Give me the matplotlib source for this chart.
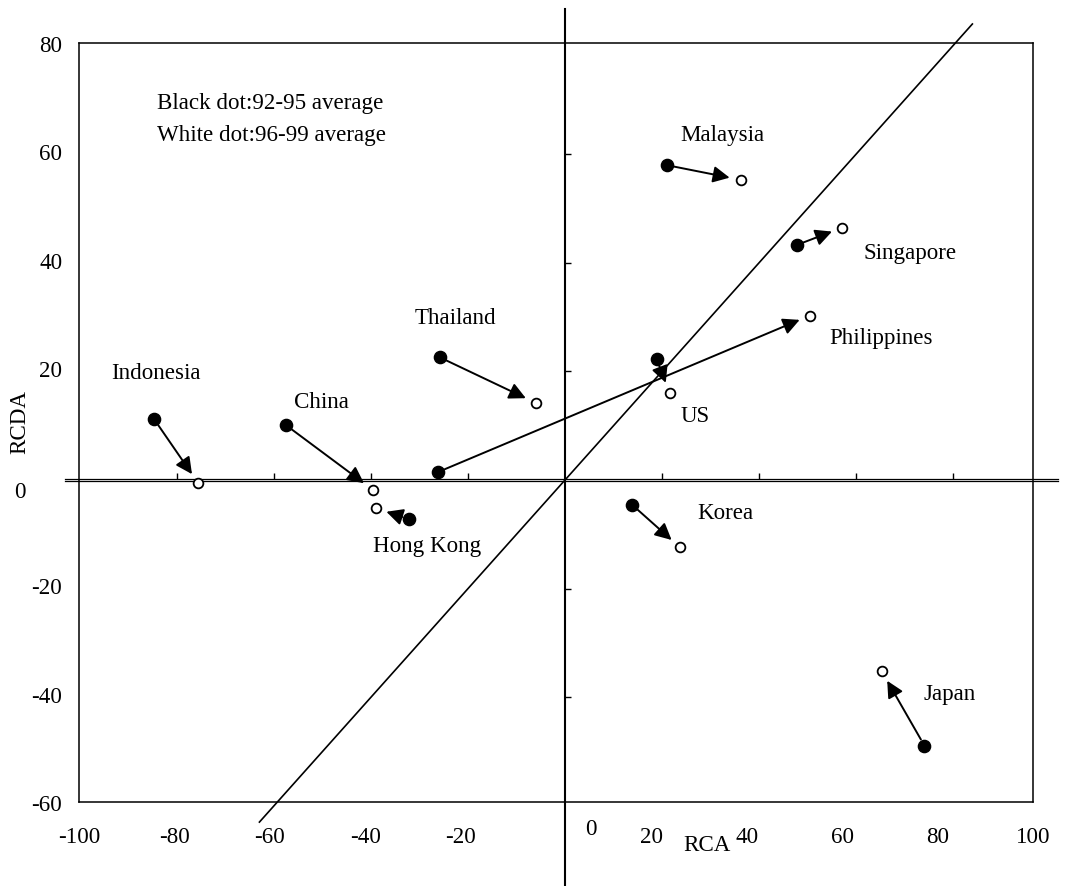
import matplotlib
matplotlib.use('Agg')
import matplotlib.pyplot as plt

plt.rcParams['font.family'] = ['Liberation Serif', 'DejaVu Serif']

# RCA / RCDA, 92-95 average (black) and 96-99 average (white)
countries = ['Indonesia', 'China', 'Hong Kong', 'Thailand', 'Philippines',
             'Malaysia', 'Singapore', 'US', 'Korea', 'Japan']
rca_9295 = [-84.7, -57.5, -32.2, -25.8, -26.1, 21.0, 47.8, 18.9, 13.9, 74.1]
rcda_9295 = [11.2, 10.1, -7.2, 22.6, 1.5, 58.0, 43.3, 22.3, -4.6, -48.9]
rca_9699 = [-75.6, -39.6, -39.0, -6.0, 50.5, 36.2, 57.2, 21.6, 23.7, 65.3]
rcda_9699 = [-0.6, -1.8, -5.2, 14.2, 30.3, 55.3, 46.5, 16.0, -12.4, -35.2]

# where each country name sits
label_x = [-93.5, -55.9, -39.6, -30.9, 54.6, 23.7, 61.5, 23.9, 27.2, 73.9]
label_y = [19.9, 14.4, -12.0, 30.0, 26.3, 63.7, 42.0, 11.8, -5.9, -39.4]

xticks = list(range(-100, 101, 20))
yticks = list(range(-60, 81, 20))

fs = 16.6
fig = plt.figure(figsize=(10.69, 8.87), dpi=100)
rect = [79 / 1069, 1 - 803 / 887, 954 / 1069, 759 / 887]

# outer frame carries the tick labels
frame = fig.add_axes(rect)
frame.set_xlim(-100, 100)
frame.set_ylim(-60, 80)
frame.set_xticks(xticks)
frame.set_yticks(yticks)
frame.set_xticklabels(['' if t == 0 else str(t) for t in xticks], fontsize=fs)
frame.set_yticklabels(['' if t == 0 else str(t) for t in yticks], fontsize=fs)
frame.tick_params(axis='x', length=0, pad=17)
frame.tick_params(axis='y', length=0, pad=12)
for s in frame.spines.values():
    s.set_linewidth(1.1)

# data drawn on the cross axes
ax = fig.add_axes(rect)
ax.set_xlim(-100.2, 96.5)
ax.set_ylim(-59.3, 80.5)
ax.axis('off')
ax.patch.set_alpha(0)

ax.plot([0, 0], [86.7, -75], color='black', lw=1.5, clip_on=False)
ax.plot([-103.1, 101.6], [0.2, 0.2], color='black', lw=0.9, clip_on=False)
ax.plot([-103.1, 101.6], [-0.25, -0.25], color='black', lw=0.9, clip_on=False)
ax.plot([-63, 84], [-63, 84], color='black', lw=1.2, clip_on=False)

# small ticks along the cross
ax.plot([0] * 5, [-40, -20, 20, 40, 60], ls='none', marker=1, ms=4, mew=1, color='black')
ax.plot([-80, -60, -40, -20, 20, 40, 60, 80], [0.2] * 8, ls='none', marker=2, ms=4,
        mew=1, color='black')

for i in range(len(countries)):
    ax.annotate('', xy=(rca_9699[i], rcda_9699[i]), xytext=(rca_9295[i], rcda_9295[i]),
                arrowprops=dict(arrowstyle='-|>', color='black', lw=1.4,
                                mutation_scale=25, shrinkA=5, shrinkB=8))
    ax.text(label_x[i], label_y[i], countries[i], fontsize=fs, ha='left', va='center')

ax.plot(rca_9295, rcda_9295, 'o', ms=8.8, color='black', zorder=5)
ax.plot(rca_9699, rcda_9699, 'o', ms=7, mfc='white', mec='black', mew=1.3, zorder=5)

ax.text(-84.1, 69.6, 'Black dot:92-95 average', fontsize=fs, ha='left', va='center')
ax.text(-84.1, 63.7, 'White dot:96-99 average', fontsize=fs, ha='left', va='center')

fig.text(591 / 1069, 1 - 830 / 887, '0', fontsize=fs, ha='center', va='center')
fig.text(20 / 1069, 1 - 493 / 887, '0', fontsize=fs, ha='center', va='center')
fig.text(707 / 1069, 1 - 846 / 887, 'RCA', fontsize=fs, ha='center', va='center')
fig.text(20 / 1069, 1 - 422 / 887, 'RCDA', fontsize=fs, ha='center', va='center',
         rotation=90)

plt.savefig('out.png', dpi=100)
